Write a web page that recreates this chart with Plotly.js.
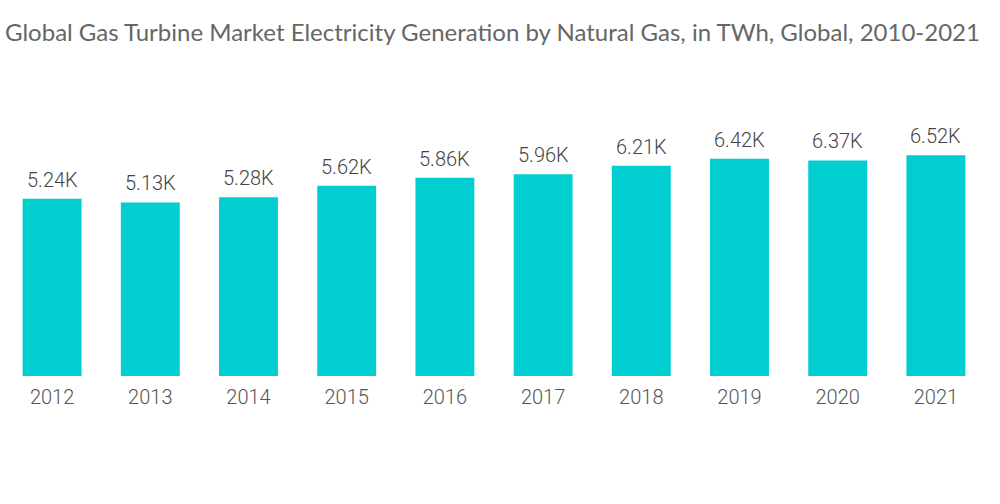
<!DOCTYPE html>
<html><head><meta charset="utf-8">
<script src="https://cdn.plot.ly/plotly-3.0.1.min.js"></script>
<style>html,body{margin:0;padding:0;background:#fff}#chart{width:1000px;height:504px}</style>
</head><body><div id="chart"></div>
<script>
const years = ['2012','2013','2014','2015','2016','2017','2018','2019','2020','2021'];
const generation = [5.24, 5.13, 5.28, 5.62, 5.86, 5.96, 6.21, 6.42, 6.37, 6.52];
const valueLabels = ['5.24K','5.13K','5.28K','5.62K','5.86K','5.96K','6.21K','6.42K','6.37K','6.52K'];

const trace = {
  type: 'bar', x: years, y: generation,
  marker: {color: '#00CED1'}, width: 0.6, hoverinfo: 'none'
};
const annotations = years.map((yr, i) => ({
  x: i, y: generation[i], xref: 'x', yref: 'y', text: valueLabels[i],
  showarrow: false, yanchor: 'bottom', yshift: 5,
  font: {family: 'Roboto', size: 20, color: '#444', weight: 300}
}));
const layout = {
  width: 1000, height: 504,
  margin: {l: 3, r: 15, t: 100, b: 128},
  paper_bgcolor: '#fff', plot_bgcolor: '#fff',
  title: {text: 'Global Gas Turbine Market Electricity Generation by Natural Gas, in TWh, Global, 2010-2021',
    x: 0.005, xanchor: 'left', y: 0.935, yanchor: 'middle',
    font: {family: 'Lato', size: 24, color: '#666'}},
  xaxis: {type: 'category', range: [-0.5, 9.5], autorange: false, showgrid: false, zeroline: false, showline: false, ticks: '',
    ticklabelstandoff: 7,
    tickfont: {family: 'Roboto', size: 20, color: '#555', weight: 300}},
  yaxis: {range: [0, 8.156], autorange: false, visible: false},
  showlegend: false, bargap: 0.4, annotations: annotations
};
Plotly.newPlot('chart', [trace], layout, {displayModeBar: false, staticPlot: true});
</script></body></html>
